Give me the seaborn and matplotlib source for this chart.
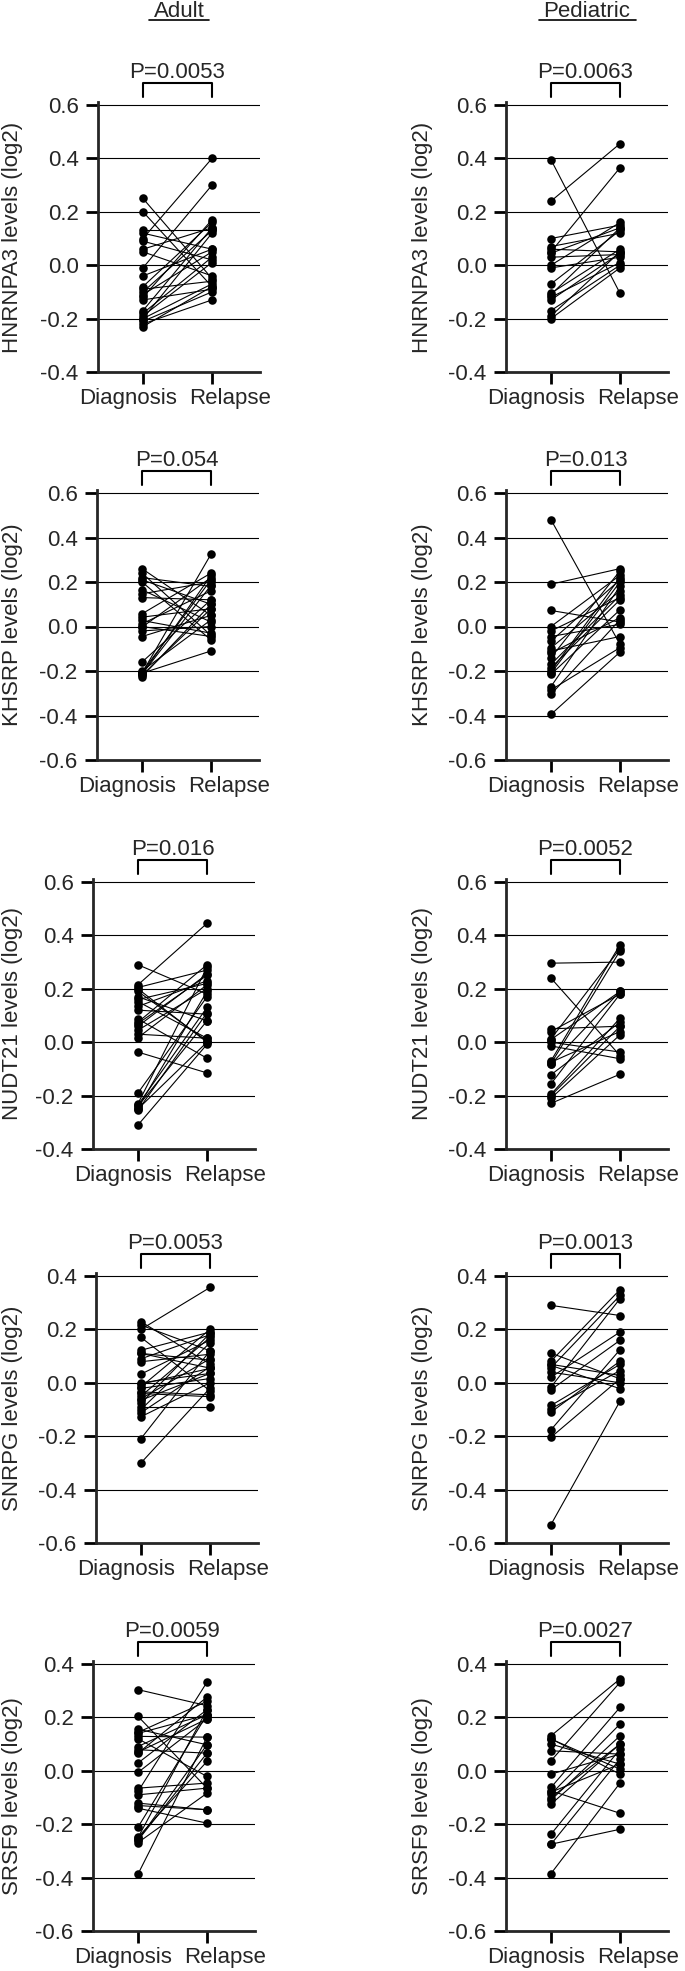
import numpy as np
import pandas as pd
import seaborn as sns
import matplotlib.pyplot as plt
import matplotlib.transforms as mtransforms
from matplotlib.lines import Line2D
from matplotlib.ticker import FormatStrFormatter

# ---- data (log2 levels) ----
groups = ["Diagnosis", "Relapse"]
cohorts = ["Adult", "Pediatric"]
genes = ["HNRNPA3", "KHSRP", "NUDT21", "SNRPG", "SRSF9"]
p_adult = ["P=0.0053", "P=0.054", "P=0.016", "P=0.0053", "P=0.0059"]
p_ped = ["P=0.0063", "P=0.013", "P=0.0052", "P=0.0013", "P=0.0027"]
y_ranges = [(-0.4, 0.6), (-0.6, 0.6), (-0.4, 0.6), (-0.6, 0.4), (-0.6, 0.4)]

adult_hnrnpa3_dx = [0.25, 0.20, 0.13, 0.12, 0.10, 0.09, 0.06, 0.05, -0.01, -0.04, -0.08, -0.09,
                    -0.10, -0.11, -0.12, -0.13, -0.17, -0.18, -0.19, -0.20, -0.21, -0.22, -0.23, -0.20]
adult_hnrnpa3_rel = [-0.05, -0.08, 0.13, 0.06, 0.40, 0.02, 0.14, -0.04, 0.30, 0.06, 0.16, -0.06,
                     0.13, 0.05, 0.17, -0.09, 0.14, 0.03, 0.01, -0.07, -0.10, -0.13, -0.08, 0.12]

ped_hnrnpa3_dx = [0.395, 0.24, 0.10, 0.07, 0.06, 0.05, 0.045, 0.03, 0.00, -0.01, -0.07, -0.105,
                  -0.12, -0.13, -0.11, -0.17, -0.20, -0.19]
ped_hnrnpa3_rel = [-0.105, 0.455, 0.15, 0.12, 0.05, 0.365, 0.14, 0.04, 0.16, 0.03, 0.13, 0.06,
                   0.01, 0.045, 0.14, 0.0, -0.01, 0.05]

adult_khsrp_dx = [0.26, 0.24, 0.22, 0.21, 0.20, 0.165, 0.147, 0.13, 0.057, 0.042, 0.027, 0.012, 0.0,
                  -0.003, -0.02, -0.045, -0.16, -0.21, -0.205, -0.215, -0.22, -0.225, -0.21, -0.20, -0.215]
adult_khsrp_rel = [0.05, -0.04, 0.18, 0.10, -0.06, 0.02, 0.20, 0.12, 0.24, 0.08, -0.03, 0.16, -0.045,
                   0.22, 0.0, 0.05, 0.12, 0.325, 0.21, 0.185, 0.08, 0.10, -0.11, 0.03, 0.23]

ped_khsrp_dx = [0.48, 0.19, 0.072, 0.0, -0.02, -0.045, -0.066, -0.096, -0.12, -0.14, -0.17, -0.185,
                -0.21, -0.215, -0.27, -0.285, -0.305, -0.395, -0.20, -0.11]
ped_khsrp_rel = [-0.08, 0.26, 0.02, 0.23, 0.13, 0.01, 0.21, 0.16, 0.04, 0.25, 0.14, 0.12,
                 0.20, 0.075, 0.18, -0.095, 0.03, -0.115, 0.22, -0.045]

adult_nudt21_dx = [0.29, 0.215, 0.205, 0.19, 0.17, 0.152, 0.134, 0.12, 0.087, 0.075, 0.06, 0.045, 0.03,
                   0.017, -0.037, -0.19, -0.23, -0.235, -0.245, -0.25, -0.255, -0.31, 0.20, 0.16, 0.07, -0.24]
adult_nudt21_rel = [0.18, 0.445, 0.27, 0.005, 0.08, 0.015, 0.23, 0.105, -0.06, 0.29, 0.255, 0.20, 0.015,
                    0.215, -0.115, 0.17, 0.28, 0.13, 0.19, 0.0, 0.11, -0.008, 0.0, 0.22, 0.25, 0.08]

ped_nudt21_dx = [0.296, 0.24, 0.05, 0.04, 0.0125, 0.0, -0.014, -0.07, -0.082, -0.075, -0.122, -0.156,
                 -0.195, -0.21, -0.229, -0.20, -0.08, 0.01]
ped_nudt21_rel = [0.30, -0.05, 0.06, 0.18, 0.35, -0.037, -0.062, 0.365, 0.19, 0.04, 0.075, 0.18,
                  0.09, 0.0275, -0.12, 0.059, 0.342, 0.19]

adult_snrpg_dx = [0.229, 0.216, 0.20, 0.17, 0.122, 0.11, 0.079, 0.0325, -0.005, -0.015, -0.021, -0.034, -0.05,
                  -0.065, -0.077, -0.09, -0.112, -0.127, -0.209, -0.30, 0.09, 0.0, -0.06, -0.04, 0.11, -0.10]
adult_snrpg_rel = [0.07, 0.12, 0.357, -0.03, 0.19, 0.085, 0.107, 0.16, 0.054, 0.20, 0.016, -0.045, 0.17,
                   0.035, 0.185, -0.09, 0.06, 0.0, 0.12, -0.02, 0.18, 0.035, 0.09, -0.052, 0.055, 0.15]

ped_snrpg_dx = [0.29, 0.111, 0.081, 0.069, 0.056, 0.04, 0.021, -0.016, -0.026, -0.085, -0.0975, -0.11,
                -0.176, -0.204, -0.531, 0.065]
ped_snrpg_rel = [0.252, 0.015, 0.349, 0.0275, 0.327, 0.0, 0.19, 0.315, 0.159, 0.069, 0.046, 0.081,
                 0.124, 0.015, -0.069, -0.022]

adult_srsf9_dx = [0.304, 0.204, 0.156, 0.144, 0.129, 0.091, 0.079, 0.066, 0.029, -0.006, -0.065, -0.0775, -0.121,
                  -0.14, -0.211, -0.249, -0.259, -0.269, -0.387, 0.12, -0.25, -0.26, -0.09, 0.07, -0.13, 0.14]
adult_srsf9_rel = [0.244, -0.065, 0.0975, 0.26, 0.126, 0.21, 0.066, 0.276, 0.229, 0.194, -0.046, 0.332, -0.146,
                   -0.196, 0.21, 0.035, 0.0975, -0.084, 0.126, -0.021, 0.229, 0.066, -0.065, 0.194, -0.146, 0.21]

ped_srsf9_dx = [0.131, 0.119, 0.10, 0.075, 0.0375, -0.0125, -0.0625, -0.075, -0.0875, -0.109, -0.125,
                -0.2375, -0.275, -0.275, -0.385, -0.10, 0.12, -0.08]
ped_srsf9_rel = [0.344, 0.006, 0.025, 0.0625, 0.331, 0.0625, 0.2375, -0.159, 0.175, 0.131, 0.10,
                 0.081, -0.219, 0.044, -0.046, 0.10, -0.0125, 0.025]

adult_data = [(adult_hnrnpa3_dx, adult_hnrnpa3_rel), (adult_khsrp_dx, adult_khsrp_rel),
              (adult_nudt21_dx, adult_nudt21_rel), (adult_snrpg_dx, adult_snrpg_rel),
              (adult_srsf9_dx, adult_srsf9_rel)]
ped_data = [(ped_hnrnpa3_dx, ped_hnrnpa3_rel), (ped_khsrp_dx, ped_khsrp_rel),
            (ped_nudt21_dx, ped_nudt21_rel), (ped_snrpg_dx, ped_snrpg_rel),
            (ped_srsf9_dx, ped_srsf9_rel)]

# ---- style ----
sns.set_style("ticks")
plt.rcParams['font.family'] = ['Liberation Sans', 'DejaVu Sans']
plt.rcParams['axes.unicode_minus'] = False

W, H = 685, 1971
fig = plt.figure(figsize=(W / 100, H / 100), dpi=100)

# layout in pixels: top gridline of each row, left edge of axes per column
row_tops = [105, 493, 882, 1276, 1664]
left_px = [[98, 97, 93, 96, 93], [506, 506, 506, 506, 506]]
ax_w, span = 162, 267
label_right_px = [23, 433]       # where the y label sits (its right side)
xlab_shift_px = [-15, 18]        # group labels are pushed apart like in the original


def paired_frame(dx, rel):
    n = len(dx)
    return pd.DataFrame({
        "pair": list(range(n)) * 2,
        "group": [0] * n + [1] * n,
        "value": list(dx) + list(rel),
    })


axes_cols = [[], []]
for c, (data, pvals) in enumerate([(adult_data, p_adult), (ped_data, p_ped)]):
    for r in range(5):
        lo, hi = y_ranges[r]
        extra = 3 / span * (hi - lo)
        bottom = 1 - (row_tops[r] + span) / H
        ax = fig.add_axes([left_px[c][r] / W, bottom, ax_w / W, (span + 3) / H])
        df = paired_frame(*data[r])

        sns.lineplot(data=df, x="group", y="value", units="pair", estimator=None,
                     color="black", lw=0.8, ax=ax, legend=False, zorder=2)
        sns.scatterplot(data=df, x="group", y="value", color="black", s=38,
                        linewidth=0, ax=ax, legend=False, zorder=3, clip_on=False)

        ticks = np.round(np.arange(lo, hi + 0.001, 0.2), 1) + 0.0
        ax.set_yticks(ticks)
        ax.yaxis.set_major_formatter(FormatStrFormatter('%.1f'))
        ax.set_ylim(lo, hi + extra)
        ax.set_xlim(-0.652, 1.696)
        ax.set_xticks([0, 1])
        ax.set_xticklabels(groups)
        ax.set_xlabel("")
        ax.grid(axis="y", color="black", lw=0.8, zorder=0)
        ax.set_axisbelow(True)

        for s in ["top", "right"]:
            ax.spines[s].set_visible(False)
        for s in ["left", "bottom"]:
            ax.spines[s].set_linewidth(2)
        ax.tick_params(axis="both", length=8.5, width=2, labelsize=16, color="black")
        ax.tick_params(axis="y", pad=5.5)
        ax.tick_params(axis="x", pad=3)

        for lab, dx in zip(ax.get_xticklabels(), xlab_shift_px):
            lab.set_transform(lab.get_transform() +
                              mtransforms.ScaledTranslation(dx / 100, 0, fig.dpi_scale_trans))

        ax.set_ylabel(f"{genes[r]} levels (log2)", fontsize=16)
        ax.yaxis.set_label_coords((label_right_px[c] - left_px[c][r]) / ax_w, 0.5)

        # significance bracket
        trans = mtransforms.blended_transform_factory(ax.transData, ax.transAxes)
        ax.plot([0, 0, 1, 1], [1.019, 1.071, 1.071, 1.019], transform=trans,
                color="black", lw=1.5, clip_on=False)
        ax.text(0.5, 1.09, pvals[r], transform=trans, ha="center", va="baseline", fontsize=16)

        axes_cols[c].append(ax)

# column titles with underline
fig.canvas.draw()
renderer = fig.canvas.get_renderer()
for c, name in enumerate(cohorts):
    ax = axes_cols[c][0]
    pos = ax.get_position()
    cx = pos.x0 + pos.width / 2
    t = fig.text(cx, 1 - 17 / H, name, ha="center", va="baseline", fontsize=16)
    bb = t.get_window_extent(renderer)
    y_line = 1 - 20 / H
    fig.add_artist(Line2D([(bb.x0 - 5) / W, (bb.x1 + 5) / W], [y_line, y_line],
                          transform=fig.transFigure, color="black", lw=1.2))

fig.savefig("out.png", dpi=100)
